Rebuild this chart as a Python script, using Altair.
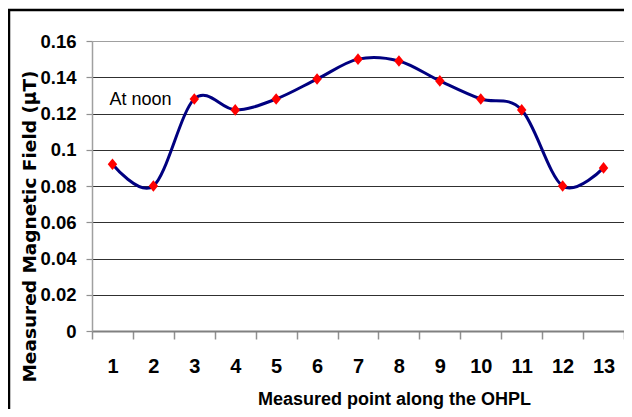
import altair as alt
import pandas as pd

points = ["1", "2", "3", "4", "5", "6", "7", "8", "9", "10", "11", "12", "13"]
field = [0.092, 0.080, 0.128, 0.122, 0.128, 0.139, 0.150, 0.149, 0.138, 0.128, 0.122, 0.080, 0.090]
y_ticks = [0, 0.02, 0.04, 0.06, 0.08, 0.1, 0.12, 0.14, 0.16]

df = pd.DataFrame({"point": points, "field": field})
note = pd.DataFrame({"point": ["1"], "field": [0.1275], "label": ["At noon"]})

FONT = "Liberation Sans, Arial"

xenc = alt.X(
    "point:N",
    sort=points,
    scale=alt.Scale(type="band", paddingInner=0, paddingOuter=0),
    axis=alt.Axis(
        title="Measured point along the OHPL",
        labelAngle=0,
        labelOverlap=False,
        tickBand="extent",
        tickSize=8,
        tickColor="#909090",
        tickWidth=1.5,
        domainColor="#808080",
        domainWidth=2,
        labelFont=FONT,
        labelFontSize=20,
        labelFontWeight="bold",
        labelColor="black",
        labelPadding=17,
        titleFont=FONT,
        titleFontSize=18,
        titleFontWeight="bold",
        titleColor="black",
        titleX=302,
        titleY=73,
        titleBaseline="alphabetic",
        titleAlign="center",
        titleAnchor="start",
    ),
)

yenc = alt.Y(
    "field:Q",
    scale=alt.Scale(domain=[0, 0.16], nice=False, zero=True),
    axis=alt.Axis(
        title="Measured Magnetic Field (\u03bcT)",
        values=y_ticks,
        format="~g",
        labelOverlap=False,
        grid=True,
        gridColor={"condition": {"test": "datum.value >= 0.159", "value": "#a0a0a0"}, "value": "#303030"},
        gridWidth=1.2,
        tickSize=6,
        tickColor="#909090",
        tickWidth=1.2,
        domainColor="#a0a0a0",
        domainWidth=1.5,
        labelFont=FONT,
        labelFontSize=18.5,
        labelFontWeight="bold",
        labelColor="black",
        labelPadding=10,
        labelBaseline="middle",
        titleFont="DejaVu Sans",
        titleFontSize=18.5,
        titleFontWeight="bold",
        titleColor="black",
        titleX=-63,
        titleY=185,
        titleBaseline="middle",
        titleAlign="center",
        titleAngle=-90,
    ),
)

frame = alt.Chart(alt.Data(values=[{"a": 1}])).mark_rect(
    fill=None, stroke="black", strokeWidth=2.5
).encode(
    x=alt.value(-83), x2=alt.value(600), y=alt.value(-31), y2=alt.value(450)
)

line = alt.Chart(df).mark_line(
    color="#000080", strokeWidth=3, interpolate="cardinal", tension=0
).encode(x=xenc, y=yenc)

pts = alt.Chart(df).mark_point(
    shape="M-0.9,0L0,-1.1L0.9,0L0,1.1Z",
    size=110,
    filled=True,
    color="#ff0000",
    opacity=1,
).encode(x=xenc, y=yenc)

txt = alt.Chart(note).mark_text(
    align="left", baseline="middle", dx=-3, font=FONT, fontSize=18, color="black"
).encode(x=xenc, y=yenc, text="label:N")

chart = alt.layer(frame, line, pts, txt).properties(
    width=532,
    height=290,
    autosize=alt.AutoSizeParams(type="none"),
    padding={"left": 84, "top": 33, "right": 0, "bottom": 78},
).configure_view(
    stroke="#a0a0a0", strokeWidth=2
).configure(background="white")

chart.save("out.html", embed_options={"renderer": "svg", "actions": False})
